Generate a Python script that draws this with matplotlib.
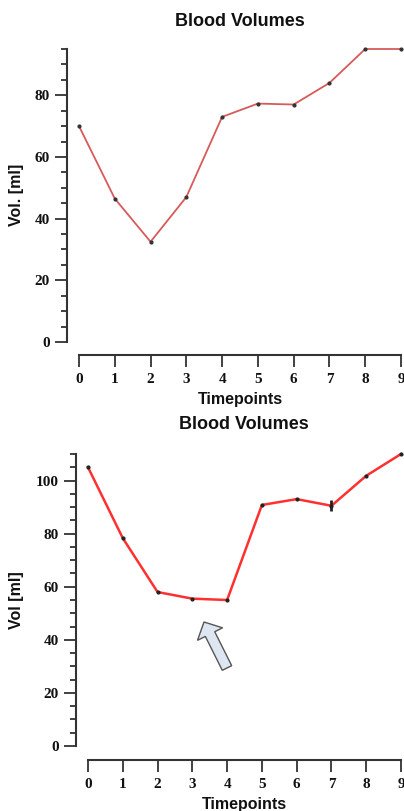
import matplotlib
matplotlib.use("Agg")
import matplotlib.pyplot as plt
from matplotlib.ticker import MultipleLocator, FixedLocator
from matplotlib.patches import FancyArrow

W, H = 404, 811

timepoints = [0, 1, 2, 3, 4, 5, 6, 7, 8, 9]
vol_top = [70, 46.5, 32.5, 47, 73, 77.3, 77, 84, 95, 95]
vol_bottom = [105, 78.3, 58, 55.5, 55, 90.8, 93, 90.5, 101.8, 110]
err_bottom = [0, 0, 0, 0, 0, 0, 0, 2, 0, 0]

title_text = "Blood Volumes"
xlabel_text = "Timepoints"
ylabel_top = "Vol. [ml]"
ylabel_bottom = "Vol [ml]"

fig = plt.figure(figsize=(W / 100, H / 100), dpi=100)
fig.patch.set_facecolor("white")

sans = ["Liberation Sans", "DejaVu Sans"]
serif = ["Liberation Serif", "DejaVu Serif"]


def fx(px):
    return px / W


def fy(py):
    return 1 - py / H


def make_axes(left, right, top, bottom, ymax, yspine_off, xspine_off):
    ax = fig.add_axes([fx(left), fy(bottom), fx(right) - fx(left), fy(top) - fy(bottom)])
    ax.set_xlim(0, 9)
    ax.set_ylim(0, ymax)
    ax.set_facecolor("none")
    for s in ["top", "right"]:
        ax.spines[s].set_visible(False)
    ax.spines["left"].set_position(("outward", yspine_off * 72 / 100))
    ax.spines["bottom"].set_position(("outward", xspine_off * 72 / 100))
    ax.spines["left"].set_bounds(0, ymax)
    ax.spines["bottom"].set_bounds(0, 9)
    for s in ["left", "bottom"]:
        ax.spines[s].set_linewidth(1.5)
        ax.spines[s].set_color("#333333")
    ax.xaxis.set_major_locator(FixedLocator(timepoints))
    ax.yaxis.set_major_locator(MultipleLocator(20))
    ax.yaxis.set_minor_locator(MultipleLocator(5))
    ax.tick_params(axis="y", which="major", length=8.5, width=1.3, color="#333333", pad=4)
    ax.tick_params(axis="y", which="minor", length=4.5, width=1.3, color="#333333")
    ax.tick_params(axis="x", which="major", length=8.5, width=1.3, color="#333333", pad=4.5)
    for lab in ax.get_xticklabels() + ax.get_yticklabels():
        lab.set_fontfamily(serif)
        lab.set_fontweight("bold")
        lab.set_fontsize(11)
        lab.set_color("#111111")
    return ax


# Top chart
ax1 = make_axes(79, 401, 49, 342, 95, 12, 13)
ax1.plot(timepoints, vol_top, color="#d85a5a", lw=1.3, marker="o", ms=2.0,
         mfc="#333333", mec="#333333", clip_on=False, zorder=3)
fig.text(fx(240), fy(22), title_text, ha="center", va="center",
         fontsize=13, fontweight="bold", family=sans, color="#111111")
fig.text(fx(240), fy(400), xlabel_text, ha="center", va="center",
         fontsize=11.5, fontweight="bold", family=sans, color="#111111")
fig.text(fx(17), fy(195), ylabel_top, ha="center", va="center", rotation=90,
         fontsize=11.5, fontweight="bold", family=sans, color="#111111")

# Bottom chart
ax2 = make_axes(88, 401, 454, 746, 110, 12, 14)
ax2.plot(timepoints, vol_bottom, color="#ff3030", lw=1.8, clip_on=False, zorder=3)
ax2.errorbar(timepoints, vol_bottom, yerr=err_bottom, fmt="o", ms=2.0,
             mfc="#222222", mec="#222222", ecolor="#222222", elinewidth=2,
             capsize=0, clip_on=False, zorder=4)
fig.text(fx(244), fy(425), title_text, ha="center", va="center",
         fontsize=13, fontweight="bold", family=sans, color="#111111")
fig.text(fx(244), fy(804), xlabel_text, ha="center", va="center",
         fontsize=11.5, fontweight="bold", family=sans, color="#111111")
fig.text(fx(17), fy(600), ylabel_bottom, ha="center", va="center", rotation=90,
         fontsize=11.5, fontweight="bold", family=sans, color="#111111")

# Annotation arrow (pixel coords -> inches)
tail = (227, 668)
tip = (204, 622)
arr = FancyArrow(tail[0] / 100, (H - tail[1]) / 100,
                 (tip[0] - tail[0]) / 100, -(tip[1] - tail[1]) / 100,
                 width=0.105, head_width=0.28, head_length=0.135,
                 length_includes_head=True, transform=fig.dpi_scale_trans,
                 facecolor="#dde6f1", edgecolor="#555555", linewidth=1.0)
fig.patches.append(arr)

fig.savefig("out.png", dpi=100, facecolor="white")
